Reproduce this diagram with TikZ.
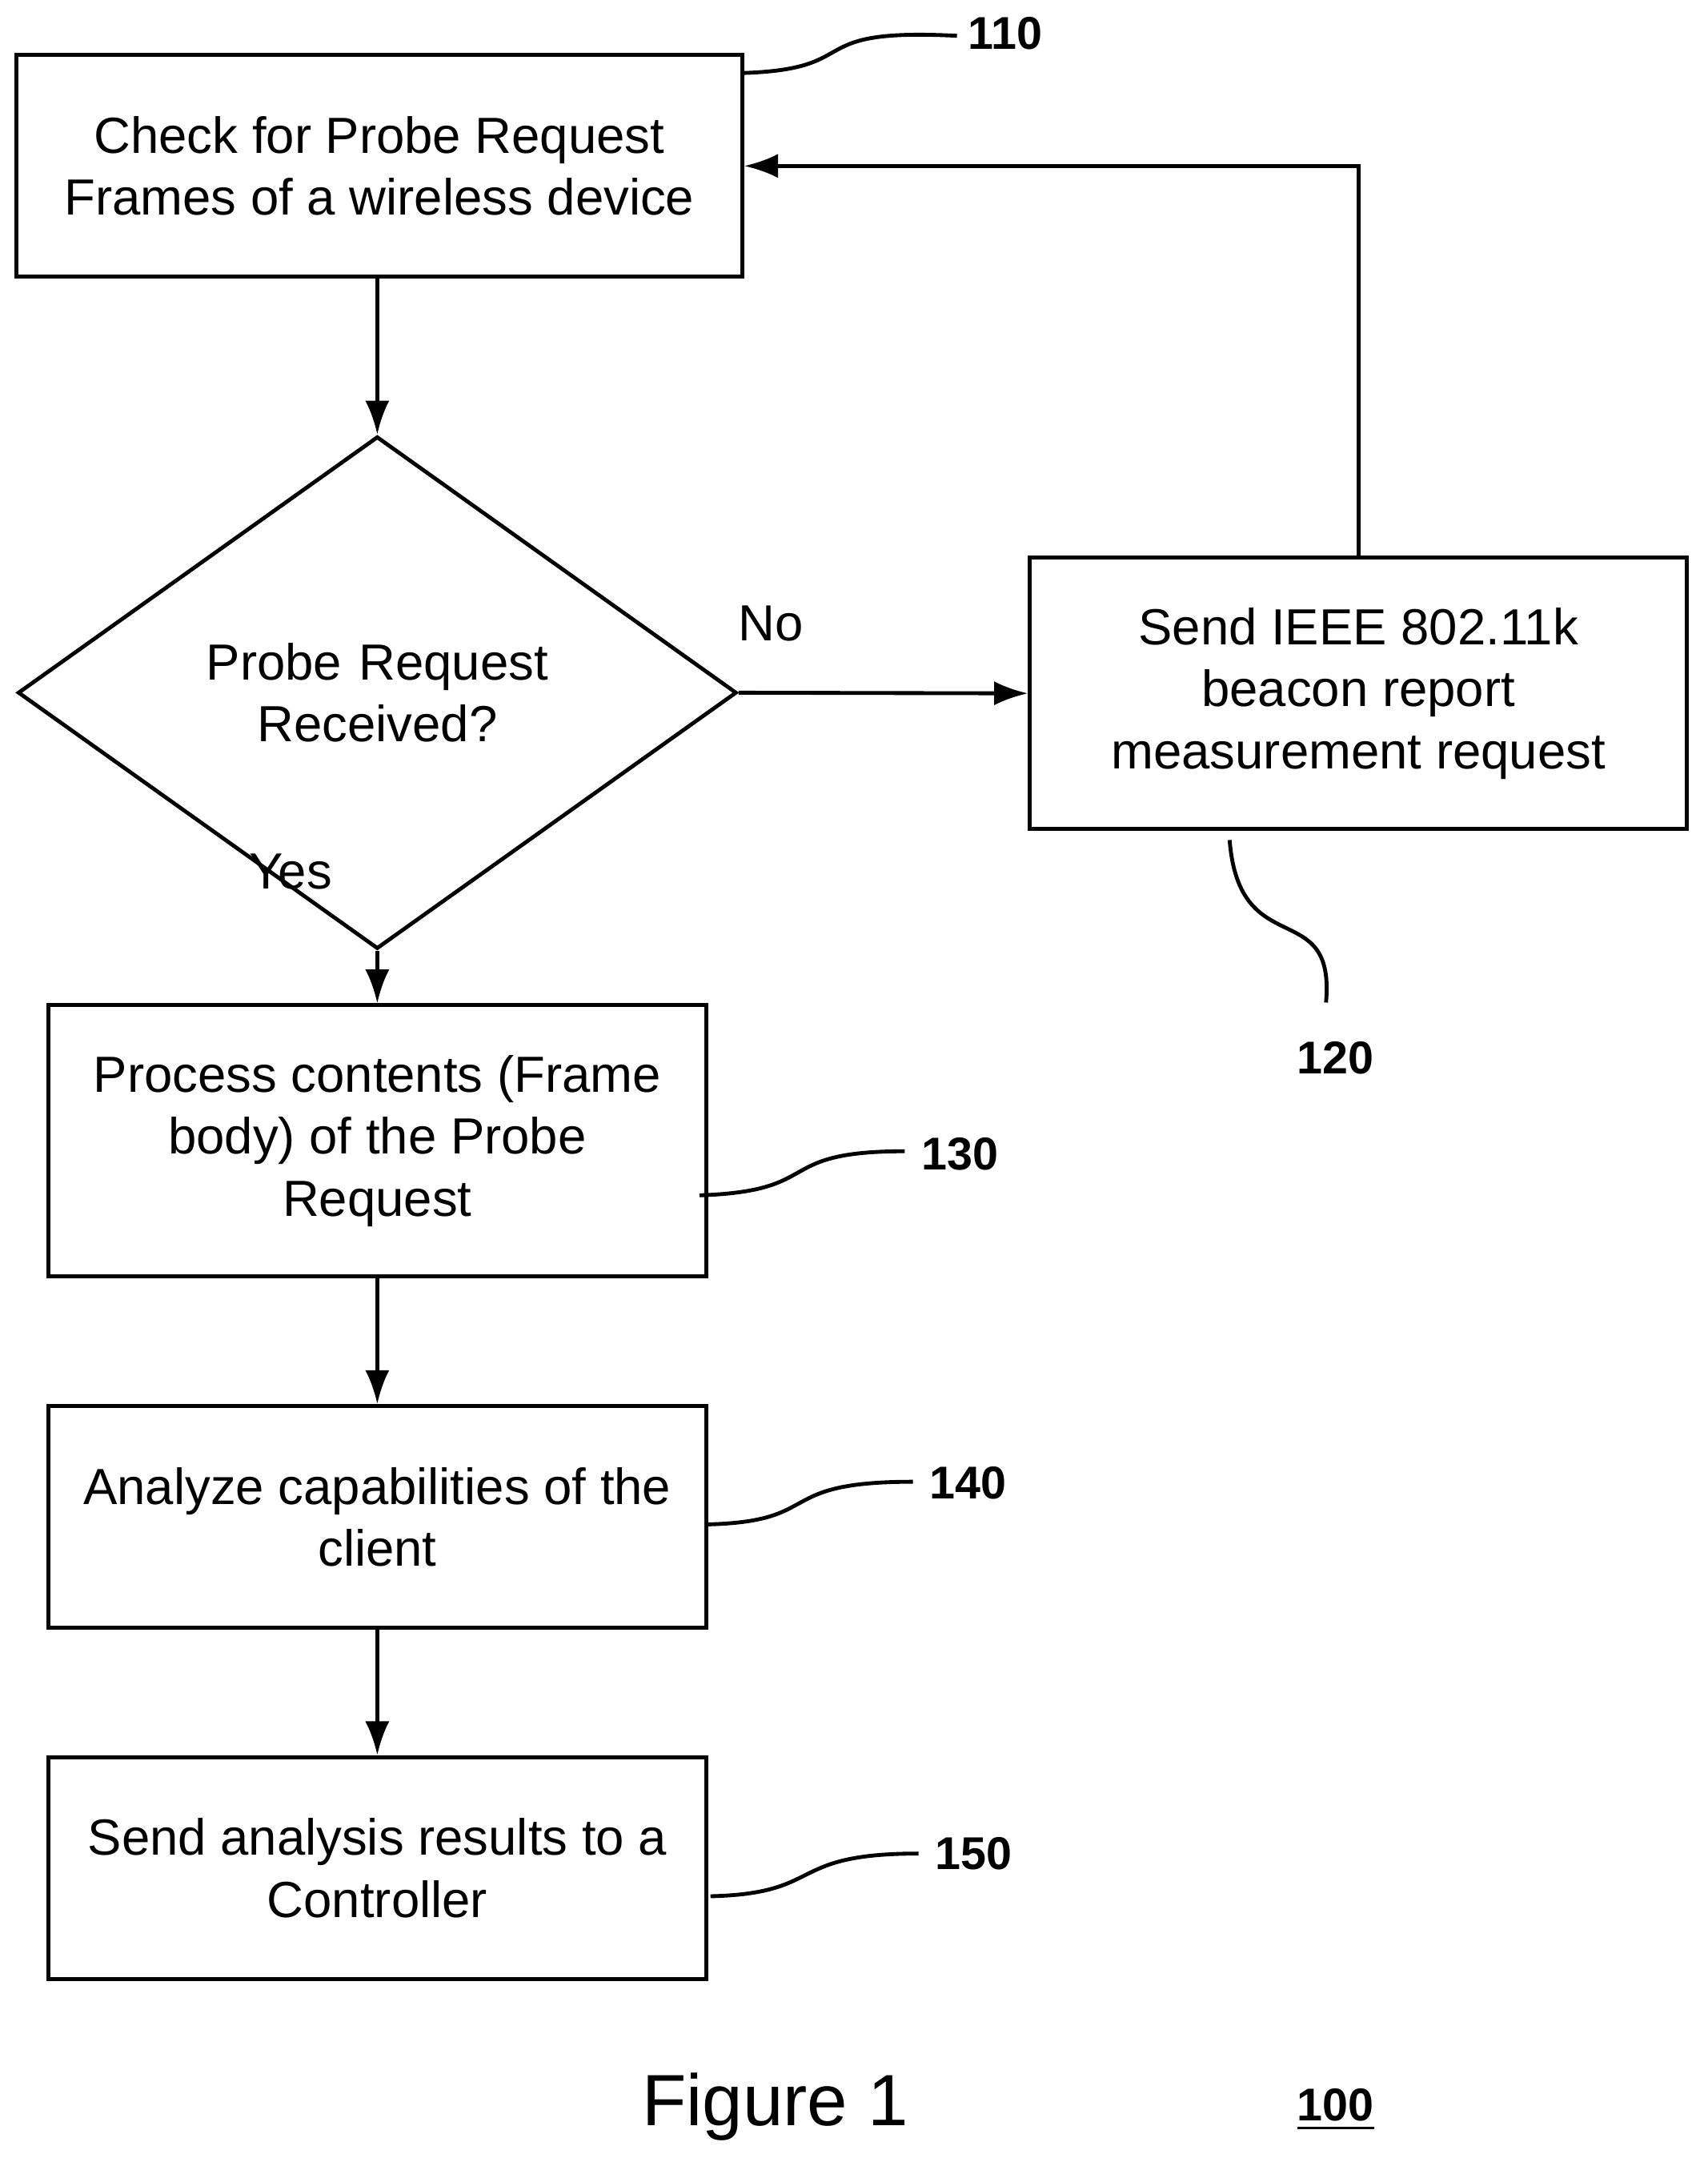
\documentclass[tikz,border=0pt]{standalone}
\usepackage{fontspec}
\setmainfont{Liberation Sans}
\usetikzlibrary{shapes.geometric,arrows.meta}
\begin{document}
\begin{tikzpicture}[x=1cm,y=-1cm,
  box/.style={draw,thick,align=center,inner sep=0pt,font=\fontsize{10.5}{12.8}\selectfont},
  ref/.style={font=\bfseries\fontsize{9.5}{11}\selectfont},
  flow/.style={draw,thick,-{Latex[length=7pt,width=5pt]}}]
\useasboundingbox (0,0) rectangle (12.4,15.7);
% steps
\node[box,minimum width=5.27cm,minimum height=1.61cm] (check) at (2.755,1.205) {Check for Probe Request\\Frames of a wireless device};
\node[box,shape=diamond,minimum width=5.22cm,minimum height=2.10cm,text width=3cm] (probe) at (2.74,5.03) {Probe Request\\Received?};
\node[box,minimum width=4.77cm,minimum height=1.97cm] (send) at (9.865,5.035) {Send IEEE 802.11k\\beacon report\\measurement request};
\node[box,minimum width=4.78cm,minimum height=1.97cm] (process) at (2.74,8.285) {Process contents (Frame\\body) of the Probe\\Request};
\node[box,minimum width=4.78cm,minimum height=1.61cm] (analyze) at (2.74,11.015) {Analyze capabilities of the\\client};
\node[box,minimum width=4.78cm,minimum height=1.61cm] (result) at (2.74,13.565) {Send analysis results to a\\Controller};
% connectors
\draw[flow] (check.south -| probe.north) -- (probe.north);
\draw[flow] (probe.east) -- (send.west);
\draw[flow] (probe.south) -- (process.north);
\draw[flow] (process) -- (analyze);
\draw[flow] (analyze) -- (result);
\draw[flow] (send.north) |- (check.east);
\node[font=\fontsize{10.5}{12.8}\selectfont] (no) at (5.6,4.53) {No};
\node[font=\fontsize{10.5}{12.8}\selectfont] (yes) at (2.11,6.33) {Yes};
% reference labels
\node[ref] (r110) at (7.3,0.24) {110};
\node[ref] (r120) at (9.7,7.68) {120};
\node[ref] (r130) at (6.97,8.38) {130};
\node[ref] (r140) at (7.03,10.77) {140};
\node[ref] (r150) at (7.07,13.46) {150};
\draw[thick] (5.4,0.53) .. controls (6.3,0.5) and (5.8,0.2) .. (6.95,0.26);
\draw[thick] (8.93,6.1) .. controls (9.0,7.0) and (9.7,6.5) .. (9.63,7.28);
\draw[thick] (5.08,8.68) .. controls (6.0,8.65) and (5.6,8.36) .. (6.57,8.36);
\draw[thick] (5.13,11.07) .. controls (6.0,11.05) and (5.6,10.76) .. (6.63,10.76);
\draw[thick] (5.16,13.77) .. controls (6.0,13.75) and (5.7,13.46) .. (6.67,13.46);
% caption
\node[font=\fontsize{15}{18}\selectfont] (fig) at (5.63,15.3) {Figure 1};
\node[ref] (r100) at (9.7,15.32) {\underline{100}};
\end{tikzpicture}
\end{document}
